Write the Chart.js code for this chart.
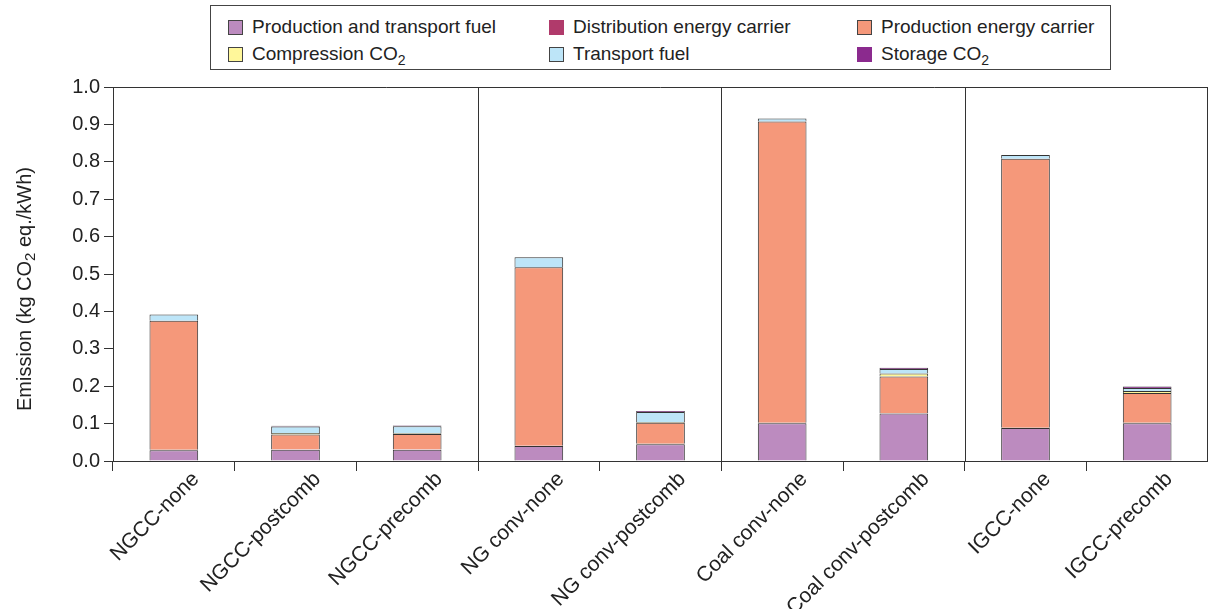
<!DOCTYPE html>
<html>
<head>
<meta charset="utf-8">
<script src="https://cdn.jsdelivr.net/npm/chart.js@4.4.0/dist/chart.umd.min.js"></script>
<style>
  html, body { margin: 0; padding: 0; background: #fff; }
  #wrap { position: relative; width: 1208px; height: 609px; overflow: hidden; }
  canvas { position: absolute; left: 0; top: 0; }
  #legend { position: absolute; left: 210px; top: 5px; width: 899px; height: 63px; border: 1px solid #444;
            font-family: "Liberation Sans", Arial, sans-serif; font-size: 19px; color: #222; background: #fff; }
  .item { position: absolute; display: flex; align-items: center; white-space: nowrap; }
  .sw { width: 15px; height: 15px; border: 1px solid #444; margin-right: 9px; box-sizing: border-box; }
  sub { font-size: 14px; vertical-align: -5px; line-height: 0; }
</style>
</head>
<body>
<div id="wrap">
  <canvas id="c" width="1208" height="609"></canvas>
  <div id="legend"></div>
</div>
<script>
const categories = ["NGCC-none","NGCC-postcomb","NGCC-precomb","NG conv-none","NG conv-postcomb","Coal conv-none","Coal conv-postcomb","IGCC-none","IGCC-precomb"];
const prodTransportFuel   = [0.029, 0.030, 0.030, 0.040, 0.045, 0.101, 0.127, 0.088, 0.101];
const distEnergyCarrier   = [0.001, 0.001, 0.001, 0.001, 0.001, 0.001, 0.001, 0.001, 0.001];
const prodEnergyCarrier   = [0.345, 0.040, 0.041, 0.477, 0.056, 0.806, 0.098, 0.719, 0.080];
const compressionCO2      = [0.000, 0.004, 0.002, 0.000, 0.002, 0.000, 0.008, 0.000, 0.005];
const transportFuel       = [0.017, 0.017, 0.019, 0.027, 0.027, 0.008, 0.012, 0.010, 0.008];
const storageCO2          = [0.000, 0.002, 0.002, 0.000, 0.003, 0.000, 0.003, 0.000, 0.004];
const yTicks = [0.0, 0.1, 0.2, 0.3, 0.4, 0.5, 0.6, 0.7, 0.8, 0.9, 1.0];
const groupBreaks = [3, 5, 7];

const series = [
  { label: "Production and transport fuel", html: "Production and transport fuel", data: prodTransportFuel, color: "#BC8BBF" },
  { label: "Distribution energy carrier", html: "Distribution energy carrier", data: distEnergyCarrier, color: "#B03A6B" },
  { label: "Production energy carrier", html: "Production energy carrier", data: prodEnergyCarrier, color: "#F5987A" },
  { label: "Compression CO2", html: "Compression CO<sub>2</sub>", data: compressionCO2, color: "#FFF79A" },
  { label: "Transport fuel", html: "Transport fuel", data: transportFuel, color: "#BDE5F8" },
  { label: "Storage CO2", html: "Storage CO<sub>2</sub>", data: storageCO2, color: "#8B2A8E" }
];

// HTML legend (3 columns x 2 rows)
const colX = [17, 338, 646];
const rowY = [10, 37];
const leg = document.getElementById('legend');
series.forEach((s, k) => {
  const d = document.createElement('div');
  d.className = 'item';
  d.style.left = colX[k % 3] + 'px';
  d.style.top = rowY[Math.floor(k / 3)] + 'px';
  d.innerHTML = '<span class="sw" style="background:' + s.color + (k === 1 || k === 5 ? ';border-color:' + s.color : '') + '"></span><span>' + s.html + '</span>';
  leg.appendChild(d);
});

const FONT = "'Liberation Sans', Arial, sans-serif";

const framePlugin = {
  id: 'frame',
  afterDatasetsDraw(chart) {
    const { ctx, chartArea: a, scales: { x } } = chart;
    ctx.save();
    ctx.strokeStyle = '#333';
    ctx.lineWidth = 1;
    ctx.beginPath();
    ctx.moveTo(a.left, a.top + 0.5); ctx.lineTo(a.right, a.top + 0.5);
    ctx.moveTo(a.right - 0.5, a.top); ctx.lineTo(a.right - 0.5, a.bottom);
    groupBreaks.forEach(i => {
      const px = Math.round((x.getPixelForValue(i - 1) + x.getPixelForValue(i)) / 2) + 0.5;
      ctx.moveTo(px, a.top); ctx.lineTo(px, a.bottom);
    });
    ctx.stroke();
    // y axis title with subscript
    const cx = 25, cy = 289;
    ctx.translate(cx, cy);
    ctx.rotate(-Math.PI / 2);
    ctx.fillStyle = '#222';
    ctx.textBaseline = 'middle';
    const p1 = 'Emission (kg CO', p2 = '2', p3 = ' eq./kWh)';
    ctx.font = '20px ' + FONT;
    const w1 = ctx.measureText(p1).width, w3 = ctx.measureText(p3).width;
    ctx.font = '15px ' + FONT;
    const w2 = ctx.measureText(p2).width;
    let sx = -(w1 + w2 + w3) / 2;
    ctx.font = '20px ' + FONT;
    ctx.fillText(p1, sx, 0); sx += w1;
    ctx.font = '15px ' + FONT;
    ctx.fillText(p2, sx, 6); sx += w2;
    ctx.font = '20px ' + FONT;
    ctx.fillText(p3, sx, 0);
    ctx.restore();
  }
};

new Chart(document.getElementById('c'), {
  type: 'bar',
  data: {
    labels: categories,
    datasets: series.map(s => ({
      label: s.label,
      data: s.data,
      backgroundColor: s.color,
      borderColor: '#333',
      borderWidth: 1,
      barPercentage: 0.4,
      categoryPercentage: 1.0
    }))
  },
  options: {
    responsive: false,
    animation: false,
    devicePixelRatio: 1,
    layout: { padding: { top: 87, right: 0, left: 0, bottom: 0 } },
    plugins: { legend: { display: false }, tooltip: { enabled: false } },
    scales: {
      x: {
        stacked: true,
        offset: true,
        grid: { display: true, offset: true, drawOnChartArea: false, drawTicks: true, tickLength: 10, color: '#333' },
        border: { display: true, color: '#333', width: 1 },
        ticks: { minRotation: 45, maxRotation: 45, autoSkip: false, color: '#222', font: { family: FONT, size: 21 }, padding: -4, labelOffset: 22 },
        afterFit(scale) { scale.height = 148; }
      },
      y: {
        stacked: true,
        min: 0, max: 1.0,
        afterBuildTicks(scale) { scale.ticks = yTicks.map(v => ({ value: v })); },
        grid: { display: true, drawOnChartArea: false, drawTicks: true, tickLength: 9, color: '#333' },
        border: { display: true, color: '#333', width: 1 },
        ticks: { color: '#222', font: { family: FONT, size: 20 }, padding: 4, callback: v => Number(v).toFixed(1) },
        afterFit(scale) { scale.width = 113; }
      }
    }
  },
  plugins: [framePlugin]
});
</script>
</body>
</html>
